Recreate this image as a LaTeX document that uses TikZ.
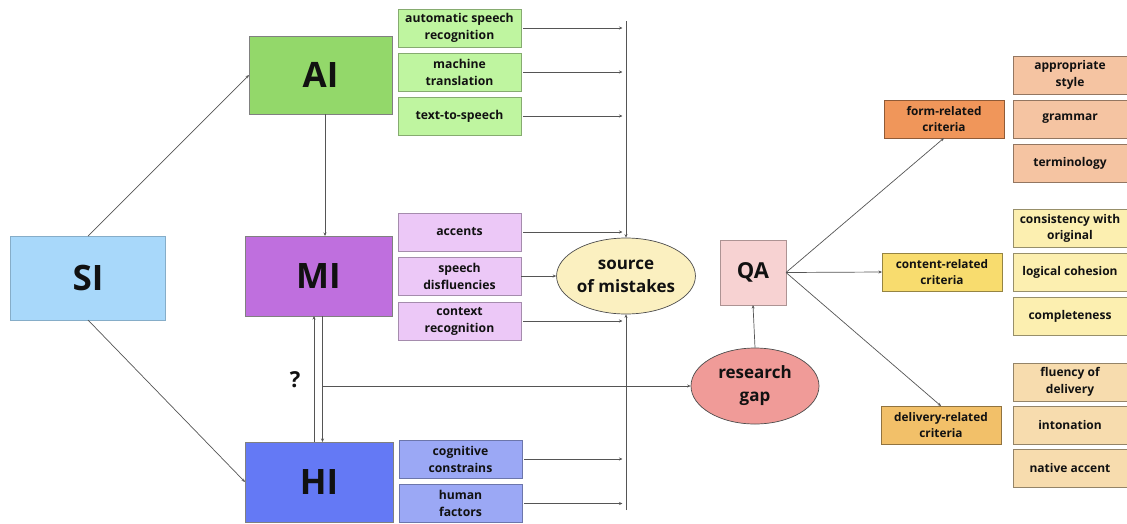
\documentclass[tikz,border=0pt]{standalone}
\usepackage{fontspec}
\setmainfont{Open Sans}
\usetikzlibrary{arrows.meta,shapes.geometric}
\definecolor{siC}{HTML}{A8D8FA}
\definecolor{aiC}{HTML}{93D86A}
\definecolor{miC}{HTML}{BF6FDE}
\definecolor{hiC}{HTML}{6479F5}
\definecolor{aisub}{HTML}{BFF5A0}
\definecolor{misub}{HTML}{ECC8F7}
\definecolor{hisub}{HTML}{9BA8F5}
\definecolor{srcC}{HTML}{FBF0C0}
\definecolor{gapC}{HTML}{F09B98}
\definecolor{qaC}{HTML}{F7D2D2}
\definecolor{formC}{HTML}{F0965A}
\definecolor{formsub}{HTML}{F5C4A2}
\definecolor{contC}{HTML}{F8DC6E}
\definecolor{contsub}{HTML}{FCEFB0}
\definecolor{delC}{HTML}{F2C069}
\definecolor{delsub}{HTML}{F7DCAE}
\definecolor{txt}{HTML}{111111}
\definecolor{lineC}{HTML}{555555}
\tikzset{
  base/.style={rectangle, draw=black!50, line width=0.7pt, outer sep=0pt, inner sep=1pt, align=center, text=txt, font=\bfseries},
  big/.style={base, font=\fontsize{35}{40}\selectfont\bfseries},
  sub/.style={base, minimum width=123pt, minimum height=38pt, font=\fontsize{12.2}{17}\selectfont\bfseries},
  rsub/.style={base, minimum width=114pt, minimum height=38pt, font=\fontsize{12}{16.5}\selectfont\bfseries},
  crit/.style={base, minimum width=120pt, minimum height=38pt, font=\fontsize{11.8}{16.5}\selectfont\bfseries},
  oval/.style={ellipse, draw=black!70, line width=0.7pt, minimum width=128pt, minimum height=76pt, inner sep=0pt, align=center, text=txt, font=\fontsize{17}{23}\selectfont\bfseries},
  arr/.style={draw=lineC, line width=0.7pt, -{Stealth[length=3.5pt,width=3pt]}},
  ln/.style={draw=lineC, line width=0.7pt}
}
\begin{document}
\begin{tikzpicture}[x=1pt,y=-1pt]
\useasboundingbox (0,0) rectangle (1127,523);
% main boxes
\node[big, fill=siC, draw=siC!80!black, minimum width=155pt, minimum height=84pt] (si) at (88,278) {SI};
\node[big, fill=aiC, minimum width=143pt, minimum height=78pt] (ai) at (320.5,75) {AI};
\node[big, fill=miC, minimum width=147pt, minimum height=80pt] (mi) at (318.5,276) {MI};
\node[big, fill=hiC, minimum width=148pt, minimum height=80pt] (hi) at (319,482) {HI};
% AI subs
\node[sub, fill=aisub, draw=aisub!70!black] (asr) at (459.5,28) {automatic speech\\recognition};
\node[sub, fill=aisub, draw=aisub!70!black] (mt) at (459.5,72) {machine\\translation};
\node[sub, fill=aisub, draw=aisub!70!black] (tts) at (459.5,116) {text-to-speech};
% MI subs
\node[sub, fill=misub, draw=misub!70!black] (acc) at (459.5,232) {accents};
\node[sub, fill=misub, draw=misub!70!black] (dis) at (459.5,276) {speech\\disfluencies};
\node[sub, fill=misub, draw=misub!70!black] (ctx) at (459.5,321) {context\\recognition};
% HI subs
\node[sub, fill=hisub, draw=hisub!70!black] (cog) at (460.5,459) {cognitive\\constrains};
\node[sub, fill=hisub, draw=hisub!70!black] (hum) at (460.5,503.5) {human\\factors};
% ellipses
\node[oval, fill=srcC] (src) at (626,276) {source\\of mistakes};
\node[oval, fill=gapC] (gap) at (755,386) {research\\gap};
% QA
\node[base, fill=qaC, draw=qaC!70!black, minimum width=66pt, minimum height=65pt, font=\fontsize{22}{26}\selectfont\bfseries] (qa) at (753,272.5) {QA};
% criteria
\node[crit, fill=formC, draw=formC!60!black] (form) at (944,119) {form-related\\criteria};
\node[crit, fill=contC, draw=contC!60!black] (cont) at (942,272) {content-related\\criteria};
\node[crit, fill=delC, draw=delC!60!black] (del) at (941,425) {delivery-related\\criteria};
% right subs
\node[rsub, fill=formsub, draw=formsub!60!black] (sty) at (1070,75) {appropriate\\style};
\node[rsub, fill=formsub, draw=formsub!60!black] (gra) at (1070,119) {grammar};
\node[rsub, fill=formsub, draw=formsub!60!black] (ter) at (1070,163) {terminology};
\node[rsub, fill=contsub, draw=contsub!60!black] (con) at (1070,228.5) {consistency with\\original};
\node[rsub, fill=contsub, draw=contsub!60!black] (log) at (1070,272) {logical cohesion};
\node[rsub, fill=contsub, draw=contsub!60!black] (com) at (1070,316) {completeness};
\node[rsub, fill=delsub, draw=delsub!60!black] (flu) at (1070,382) {fluency of\\delivery};
\node[rsub, fill=delsub, draw=delsub!60!black] (int) at (1070,425) {intonation};
\node[rsub, fill=delsub, draw=delsub!60!black] (nat) at (1070,468) {native accent};
% question mark
\node[text=txt, font=\fontsize{22}{26}\selectfont\bfseries] (q) at (295,380) {?};
% bus coordinates
\coordinate (bustop) at (626,21);
\coordinate (busbot) at (626,510);
% connectors
\draw[arr] (si.north) -- (ai.west);
\draw[arr] (si.south) -- (hi.west);
\draw[arr] ([xshift=4.5pt]ai.south) -- ([xshift=4.5pt]ai.south |- mi.north);
\draw[arr] ([xshift=-5pt]hi.north) -- ([xshift=-5pt]hi.north |- mi.south);
\draw[arr] ([xshift=4pt]mi.south) -- ([xshift=4pt]mi.south |- hi.north);
\draw[arr] ([xshift=4pt]mi.south |- gap.west) -- (gap.west);
\draw[arr] (bustop) -- (src.north);
\draw[arr] (busbot) -- (src.south);
\foreach \n in {asr,mt,tts,acc,ctx,cog,hum}{
  \draw[arr, shorten >=3.5pt] ([xshift=2pt]\n.east) -- (\n.east -| bustop);
}
\draw[arr] (dis.east) -- (src.west);
\draw[arr] (gap.north) -- (qa.south);
\draw[arr] (qa.east) -- (form.south);
\draw[arr] (qa.east) -- (cont.west);
\draw[arr] (qa.east) -- (del.north);
\end{tikzpicture}
\end{document}
